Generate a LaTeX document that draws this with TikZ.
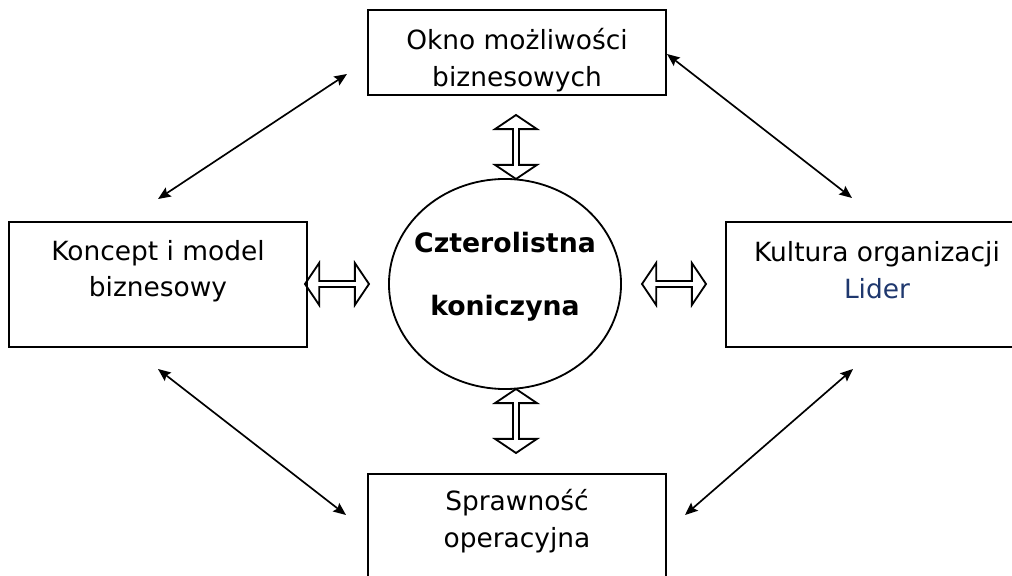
\documentclass[tikz,border=0pt]{standalone}
\usepackage{fontspec}
\setmainfont{DejaVu Sans}
\usetikzlibrary{shapes.geometric,shapes.arrows,arrows.meta,positioning}
\definecolor{liderblue}{RGB}{31,56,110}
\tikzset{
  box/.style={draw,line width=1.4pt,minimum width=7.45cm,inner sep=0pt},
  boxtext/.style={align=center,font=\fontsize{18.8}{26}\selectfont},
  fat/.style={double arrow,draw,line width=1.3pt,minimum height=1.6cm,minimum width=1.05cm,
    double arrow head extend=0.14cm,double arrow tip angle=112,inner sep=0pt},
  link/.style={{Stealth[length=9pt,width=7.5pt,inset=1.5pt]}-{Stealth[length=9pt,width=7.5pt,inset=1.5pt]},line width=1.2pt}
}
\begin{document}
\begin{tikzpicture}[x=0.025cm,y=-0.025cm]
  \useasboundingbox (0,0) rectangle (1012,576);
  \clip (0,0) rectangle (1012,576);
  % the four boxes
  \node[box,minimum height=2.125cm] (okno) at (517,52.5) {};
  \node[box,minimum height=3.125cm] (koncept) at (158,284.5) {};
  \node[box,minimum height=3.125cm] (kultura) at (875,284.5) {};
  \node[box,minimum height=3.125cm] (sprawnosc) at (517,536.5) {};
  \node[boxtext] (okno-t) at (517,60) {Okno możliwości\\biznesowych};
  \node[boxtext] (koncept-t) at (158,271) {Koncept i model\\biznesowy};
  \node[boxtext] (kultura-t) at (877,270) {Kultura organizacji\\\textcolor{liderblue}{Lider}};
  \node[boxtext] (sprawnosc-t) at (517,521) {Sprawność\\operacyjna};
  % centre
  \node[draw,ellipse,line width=1.3pt,minimum width=5.8cm,minimum height=5.25cm,inner sep=0pt]
    (koniczyna) at (505,284) {};
  \node[align=center,font=\bfseries\fontsize{19}{45}\selectfont] (koniczyna-t) at (505,277)
    {Czterolistna\\koniczyna};
  % fat arrows
  \node[fat,shape border rotate=90] (f-top) at (516,147) {};
  \node[fat,shape border rotate=90] (f-bottom) at (516,421) {};
  \node[fat] (f-left) at (337,284) {};
  \node[fat] (f-right) at (674,284) {};
  % thin arrows
  \coordinate (tl-a) at (158,199);
  \coordinate (tl-b) at (347,74);
  \coordinate (tr-a) at (667,54);
  \coordinate (tr-b) at (852,198);
  \coordinate (bl-a) at (158,369);
  \coordinate (bl-b) at (346,515);
  \coordinate (br-a) at (853,369);
  \coordinate (br-b) at (685,515);
  \draw[link] (tl-a) -- (tl-b);
  \draw[link] (tr-a) -- (tr-b);
  \draw[link] (bl-a) -- (bl-b);
  \draw[link] (br-a) -- (br-b);
\end{tikzpicture}
\end{document}
